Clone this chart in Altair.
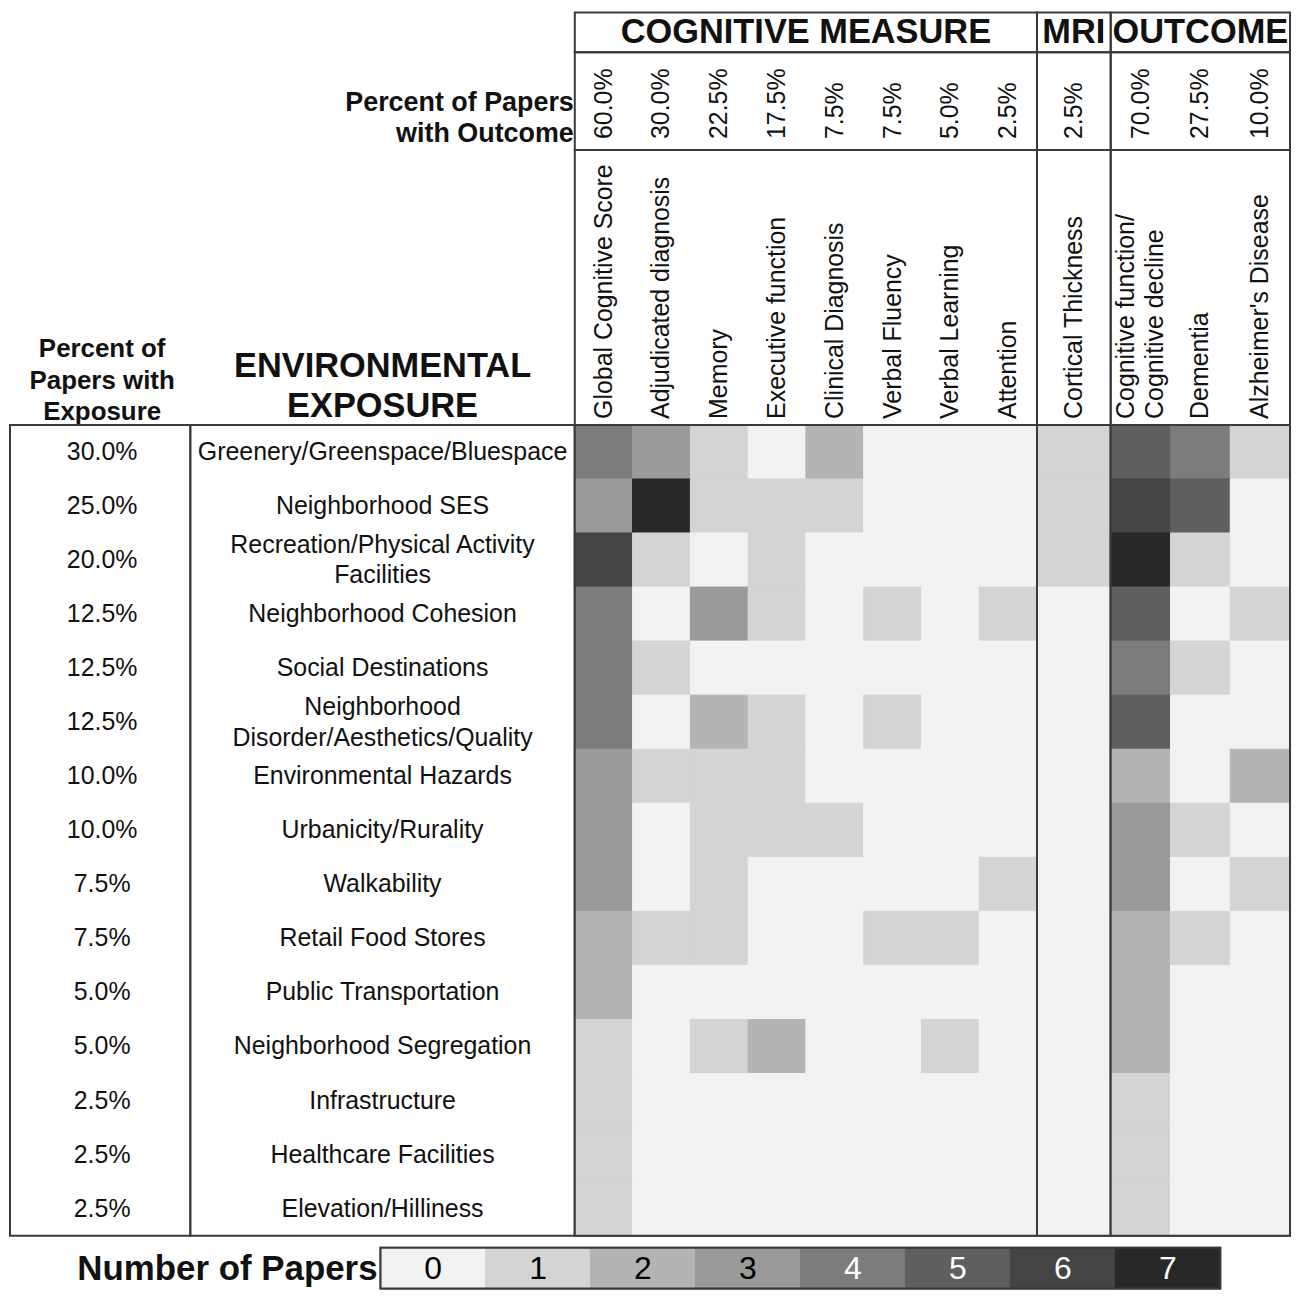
import altair as alt
import pandas as pd

# ---------------- data ----------------
exposures = [
    "Greenery/Greenspace/Bluespace",
    "Neighborhood SES",
    "Recreation/Physical Activity\nFacilities",
    "Neighborhood Cohesion",
    "Social Destinations",
    "Neighborhood\nDisorder/Aesthetics/Quality",
    "Environmental Hazards",
    "Urbanicity/Rurality",
    "Walkability",
    "Retail Food Stores",
    "Public Transportation",
    "Neighborhood Segregation",
    "Infrastructure",
    "Healthcare Facilities",
    "Elevation/Hilliness",
]
exposure_pct = ["30.0%", "25.0%", "20.0%", "12.5%", "12.5%", "12.5%", "10.0%", "10.0%",
                "7.5%", "7.5%", "5.0%", "5.0%", "2.5%", "2.5%", "2.5%"]

cog_measures = ["Global Cognitive Score", "Adjudicated diagnosis", "Memory", "Executive function",
                "Clinical Diagnosis", "Verbal Fluency", "Verbal Learning", "Attention"]
cog_pct = ["60.0%", "30.0%", "22.5%", "17.5%", "7.5%", "7.5%", "5.0%", "2.5%"]
mri_measures = ["Cortical Thickness"]
mri_pct = ["2.5%"]
outcomes = ["Cognitive function/\nCognitive decline", "Dementia", "Alzheimer's Disease"]
out_pct = ["70.0%", "27.5%", "10.0%"]

cog_counts = [
    [4, 3, 1, 0, 2, 0, 0, 0],
    [3, 7, 1, 1, 1, 0, 0, 0],
    [6, 1, 0, 1, 0, 0, 0, 0],
    [4, 0, 3, 1, 0, 1, 0, 1],
    [4, 1, 0, 0, 0, 0, 0, 0],
    [4, 0, 2, 1, 0, 1, 0, 0],
    [3, 1, 1, 1, 0, 0, 0, 0],
    [3, 0, 1, 1, 1, 0, 0, 0],
    [3, 0, 1, 0, 0, 0, 0, 1],
    [2, 1, 1, 0, 0, 1, 1, 0],
    [2, 0, 0, 0, 0, 0, 0, 0],
    [1, 0, 1, 2, 0, 0, 1, 0],
    [1, 0, 0, 0, 0, 0, 0, 0],
    [1, 0, 0, 0, 0, 0, 0, 0],
    [1, 0, 0, 0, 0, 0, 0, 0],
]
mri_counts = [[1], [1], [1], [0], [0], [0], [0], [0], [0], [0], [0], [0], [0], [0], [0]]
out_counts = [
    [5, 4, 1],
    [6, 5, 0],
    [7, 1, 0],
    [5, 0, 1],
    [4, 1, 0],
    [5, 0, 0],
    [2, 0, 2],
    [3, 1, 0],
    [3, 0, 1],
    [2, 1, 0],
    [2, 0, 0],
    [2, 0, 0],
    [1, 0, 0],
    [1, 0, 0],
    [1, 0, 0],
]

legend_values = [0, 1, 2, 3, 4, 5, 6, 7]
grey_levels = ["#f2f2f2", "#d4d4d4", "#b4b4b4", "#9a9a9a",
               "#7c7c7c", "#5f5f5f", "#444444", "#282828"]

# ---------------- style ----------------
FONT = "Liberation Sans, Arial, sans-serif"
LINE = "#3a3a3a"
INK = "#111111"
NO_STROKE = alt.ViewBackground(stroke="transparent")

TABLE_H = 814
TITLE_H = 40
PCT_H = 98
NAME_H = 276
PCTCOL_W = 181
LABEL_W = 386
COG_W, MRI_W, OUT_W = 464, 74, 180

MULTI = "indexof(datum.{f}, '\\n') >= 0"
SINGLE = "indexof(datum.{f}, '\\n') < 0"

color_scale = alt.Scale(domain=legend_values, range=grey_levels)
dummy = pd.DataFrame({"f": [0]})


def frame(w, h):
    return alt.Chart(dummy).mark_rect(fillOpacity=0, stroke=LINE, strokeWidth=2).encode(
        x=alt.value(0), x2=alt.value(w), y=alt.value(0), y2=alt.value(h))


def blank(w, h):
    return alt.Chart(dummy).mark_text().encode(text=alt.value("")).properties(
        width=w, height=h, view=NO_STROKE)


def long_df(measures, counts):
    rows = []
    for i, e in enumerate(exposures):
        for j, m in enumerate(measures):
            rows.append({"exposure": e, "measure": m, "count": counts[i][j]})
    return pd.DataFrame(rows)


def title_panel(text, w):
    return alt.Chart(pd.DataFrame({"t": [text]})).mark_text(
        fontSize=34.5, fontWeight="bold", color=INK, baseline="middle"
    ).encode(text="t:N", x=alt.value(w / 2), y=alt.value(TITLE_H / 2 + 1)).properties(
        width=w, height=TITLE_H)


def pct_panel(measures, pcts, w):
    df = pd.DataFrame({"m": measures, "p": pcts})
    return alt.Chart(df).mark_text(
        angle=270, align="left", baseline="middle", fontSize=25, color=INK
    ).encode(
        x=alt.X("m:N", sort=measures, axis=None, scale=alt.Scale(type="point", padding=0.5)),
        y=alt.value(PCT_H - 11),
        text="p:N",
    ).properties(width=w, height=PCT_H)


def name_panel(measures, w):
    df = pd.DataFrame({"m": measures})
    xenc = alt.X("m:N", sort=measures, axis=None, scale=alt.Scale(type="point", padding=0.5))
    common = dict(angle=270, align="left", baseline="middle", fontSize=25, color=INK,
                  lineBreak="\n", lineHeight=30)
    base = alt.Chart(df)
    single = base.transform_filter(SINGLE.format(f="m")).mark_text(**common).encode(
        x=xenc, y=alt.value(NAME_H - 6), text="m:N")
    multi = base.transform_filter(MULTI.format(f="m")).mark_text(dy=-15, **common).encode(
        x=xenc, y=alt.value(NAME_H - 6), text="m:N")
    return alt.layer(single, multi).properties(width=w, height=NAME_H)


def heat_panel(measures, counts, w):
    heat = alt.Chart(long_df(measures, counts)).mark_rect(strokeWidth=1).encode(
        x=alt.X("measure:N", sort=measures, axis=None,
                scale=alt.Scale(paddingInner=0, paddingOuter=0)),
        y=alt.Y("exposure:N", sort=exposures, axis=None,
                scale=alt.Scale(paddingInner=0, paddingOuter=0)),
        color=alt.Color("count:O", scale=color_scale, legend=None),
        stroke=alt.Stroke("count:O", scale=color_scale, legend=None),
    )
    return alt.layer(heat, frame(w, TABLE_H)).properties(width=w, height=TABLE_H)


# ---------------- left header panels ----------------
outcome_hdr = alt.Chart(pd.DataFrame({"t": ["Percent of Papers\nwith Outcome"]})).mark_text(
    fontSize=27, fontWeight="bold", color=INK, align="right", baseline="middle",
    lineBreak="\n", lineHeight=31
).encode(text="t:N", x=alt.value(LABEL_W - 1), y=alt.value(51)).properties(
    width=LABEL_W, height=PCT_H, view=NO_STROKE)

exposure_pct_hdr = alt.Chart(pd.DataFrame({"t": ["Percent of\nPapers with\nExposure"]})).mark_text(
    fontSize=26, fontWeight="bold", color=INK, align="center", baseline="middle",
    lineBreak="\n", lineHeight=31.5
).encode(text="t:N", x=alt.value(PCTCOL_W / 2 + 2), y=alt.value(200)).properties(
    width=PCTCOL_W, height=NAME_H, view=NO_STROKE)

env_hdr = alt.Chart(pd.DataFrame({"t": ["ENVIRONMENTAL\nEXPOSURE"]})).mark_text(
    fontSize=34.5, fontWeight="bold", color=INK, align="center", baseline="middle",
    lineBreak="\n", lineHeight=40
).encode(text="t:N", x=alt.value(LABEL_W / 2), y=alt.value(218)).properties(
    width=LABEL_W, height=NAME_H, view=NO_STROKE)

# ---------------- left table columns ----------------
rows_df = pd.DataFrame({"exposure": exposures, "pct": exposure_pct})
ypos = alt.Y("exposure:N", sort=exposures, axis=None, scale=alt.Scale(type="point", padding=0.5))

pct_col = alt.Chart(rows_df).mark_text(fontSize=25, color=INK, baseline="middle").encode(
    y=ypos, x=alt.value(PCTCOL_W / 2 + 2), text="pct:N"
).properties(width=PCTCOL_W, height=TABLE_H)

lab_common = dict(fontSize=25, color=INK, baseline="middle", lineBreak="\n", lineHeight=31)
lab_single = alt.Chart(rows_df).transform_filter(SINGLE.format(f="exposure")).mark_text(
    **lab_common).encode(y=ypos, x=alt.value(LABEL_W / 2), text="exposure:N")
lab_multi = alt.Chart(rows_df).transform_filter(MULTI.format(f="exposure")).mark_text(
    dy=-15.5, **lab_common).encode(y=ypos, x=alt.value(LABEL_W / 2), text="exposure:N")
label_col = alt.layer(lab_single, lab_multi).properties(width=LABEL_W, height=TABLE_H)

# ---------------- legend ----------------
LEG_LABEL_W = 372
LEG_W = 843
LEG_H = 41
leg_label = alt.Chart(pd.DataFrame({"t": ["Number of Papers"]})).mark_text(
    fontSize=35, fontWeight="bold", color=INK, align="right", baseline="middle"
).encode(text="t:N", x=alt.value(LEG_LABEL_W - 3), y=alt.value(LEG_H / 2 + 1)).properties(
    width=LEG_LABEL_W, height=LEG_H, view=NO_STROKE)

leg_df = pd.DataFrame({"n": legend_values})
leg_x = alt.X("n:O", axis=None, scale=alt.Scale(paddingInner=0, paddingOuter=0))
leg_rect = alt.Chart(leg_df).mark_rect(strokeWidth=1).encode(
    x=leg_x,
    color=alt.Color("n:O", scale=color_scale, legend=None),
    stroke=alt.Stroke("n:O", scale=color_scale, legend=None))
leg_text = alt.Chart(leg_df).mark_text(fontSize=32, baseline="middle").encode(
    x=leg_x, y=alt.value(LEG_H / 2 + 1), text="n:O",
    color=alt.condition(alt.datum.n >= 4, alt.value("white"), alt.value("black")))
leg_bar = alt.layer(leg_rect, leg_text, frame(LEG_W, LEG_H)).properties(
    width=LEG_W, height=LEG_H)

legend_row = alt.hconcat(leg_label, leg_bar, spacing=0, bounds="flush")

# ---------------- grid (5 columns) ----------------
panels = [
    blank(PCTCOL_W, TITLE_H), blank(LABEL_W, TITLE_H),
    title_panel("COGNITIVE MEASURE", COG_W), title_panel("MRI", MRI_W), title_panel("OUTCOME", OUT_W),

    blank(PCTCOL_W, PCT_H), outcome_hdr,
    pct_panel(cog_measures, cog_pct, COG_W), pct_panel(mri_measures, mri_pct, MRI_W),
    pct_panel(outcomes, out_pct, OUT_W),

    exposure_pct_hdr, env_hdr,
    name_panel(cog_measures, COG_W), name_panel(mri_measures, MRI_W), name_panel(outcomes, OUT_W),

    pct_col, label_col,
    heat_panel(cog_measures, cog_counts, COG_W), heat_panel(mri_measures, mri_counts, MRI_W),
    heat_panel(outcomes, out_counts, OUT_W),
]

grid = alt.concat(*panels, columns=5, spacing=0, bounds="flush", align="each")

chart = alt.vconcat(grid, legend_row, spacing=8).properties(
    padding=1
).configure(
    font=FONT,
    view=alt.ViewConfig(stroke=LINE, strokeWidth=2),
)

chart.save("out.html", embed_options={"renderer": "svg", "actions": False})
